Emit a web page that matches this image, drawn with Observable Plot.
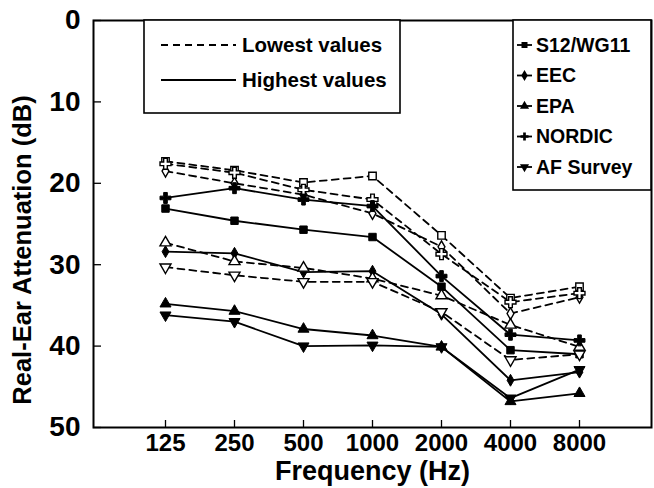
<!DOCTYPE html>
<html>
<head>
<meta charset="utf-8">
<script src="https://cdn.jsdelivr.net/npm/d3@7"></script>
<script src="https://cdn.jsdelivr.net/npm/@observablehq/plot@0.6"></script>
<style>
  html, body { margin: 0; padding: 0; background: #fff; }
  #chart svg { display: block; }
</style>
</head>
<body>
<div id="chart"></div>
<script>
// Octave-band frequencies (Hz)
const frequencies = ["125", "250", "500", "1000", "2000", "4000", "8000"];
const yTicks = [0, 10, 20, 30, 40, 50];

// Series (rating procedures)
const seriesNames = ["S12/WG11", "EEC", "EPA", "NORDIC", "AF Survey"];

// Real-ear attenuation (dB): lowest and highest values per procedure
const s12Low     = [17.3, 18.4, 19.9, 19.1, 26.4, 34.1, 32.7];
const s12High    = [23.1, 24.6, 25.7, 26.6, 32.7, 40.5, 41.0];
const eecLow     = [18.5, 20.0, 21.4, 23.7, 27.8, 36.0, 34.0];
const eecHigh    = [28.4, 28.6, 30.9, 30.8, 36.1, 44.2, 43.2];
const epaLow     = [27.3, 29.6, 30.4, 31.7, 33.8, 37.4, 40.1];
const epaHigh    = [34.8, 35.7, 37.9, 38.7, 40.1, 46.8, 45.8];
const nordicLow  = [17.6, 18.7, 20.8, 22.0, 28.7, 34.6, 33.5];
const nordicHigh = [21.8, 20.6, 22.0, 22.8, 31.4, 38.6, 39.3];
const afLow      = [30.3, 31.3, 32.1, 32.1, 35.8, 41.7, 41.0];
const afHigh     = [36.2, 37.0, 40.0, 39.9, 40.1, 46.4, 42.9];

// Downward-pointing triangle, same geometry as d3.symbolTriangle but flipped
const triangleDown = {
  draw(context, size) {
    const sqrt3 = Math.sqrt(3);
    const y = -Math.sqrt(size / (sqrt3 * 3));
    context.moveTo(0, -y * 2);
    context.lineTo(-sqrt3 * y, y);
    context.lineTo(sqrt3 * y, y);
    context.closePath();
  }
};

const seriesStyle = {
  "S12/WG11":  {symbol: "square",   r: 4.2, d3sym: d3.symbolSquare},
  "EEC":       {symbol: "diamond",  r: 3.6, d3sym: d3.symbolDiamond},
  "EPA":       {symbol: "triangle", r: 4.1, d3sym: d3.symbolTriangle},
  "NORDIC":    {symbol: "cross",    r: 4.6, d3sym: d3.symbolCross},
  "AF Survey": {symbol: triangleDown, r: 4.1, d3sym: triangleDown}
};

const lowArrays  = [s12Low, eecLow, epaLow, nordicLow, afLow];
const highArrays = [s12High, eecHigh, epaHigh, nordicHigh, afHigh];

const rows = [];
seriesNames.forEach((name, i) => {
  frequencies.forEach((f, j) => {
    rows.push({series: name, kind: "low", freq: f, value: lowArrays[i][j]});
    rows.push({series: name, kind: "high", freq: f, value: highArrays[i][j]});
  });
});
const lowRows = rows.filter(d => d.kind === "low");
const highRows = rows.filter(d => d.kind === "high");

const W = 654, H = 488;
const mLeft = 93, mRight = 3, mTop = 20, mBottom = 61;
const innerW = W - mLeft - mRight, innerH = H - mTop - mBottom;
const FONT = "'Liberation Sans', Arial, Helvetica, sans-serif";

const dotMarks = [];
seriesNames.forEach(name => {
  const st = seriesStyle[name];
  dotMarks.push(Plot.dot(lowRows.filter(d => d.series === name), {
    x: "freq", y: "value", symbol: () => st.symbol, r: st.r,
    fill: "white", stroke: "black", strokeWidth: 1.4
  }));
  dotMarks.push(Plot.dot(highRows.filter(d => d.series === name), {
    x: "freq", y: "value", symbol: () => st.symbol, r: st.r,
    fill: "black", stroke: "black", strokeWidth: 1
  }));
});

const chart = Plot.plot({
  width: W,
  height: H,
  marginLeft: mLeft,
  marginRight: mRight,
  marginTop: mTop,
  marginBottom: mBottom,
  style: {fontFamily: FONT, background: "white", color: "black"},
  x: {type: "point", domain: frequencies, padding: 1},
  y: {domain: [0, 50], reverse: true},
  symbol: {type: "identity"},
  marks: [
    // inward tick marks
    Plot.tickX(frequencies, {x: d => d, stroke: "black", strokeWidth: 1.3, insetTop: innerH - 7}),
    Plot.tickY(yTicks, {y: d => d, stroke: "black", strokeWidth: 1.3, insetRight: innerW - 8}),
    Plot.axisX({tickSize: 0, tickPadding: 6, fontSize: 24, fontWeight: "bold", label: null}),
    Plot.axisY(yTicks, {tickSize: 0, tickPadding: 13, fontSize: 28, fontWeight: "bold", label: null}),
    Plot.line(lowRows, {x: "freq", y: "value", z: "series", stroke: "black",
      strokeWidth: 1.8, strokeDasharray: "7,5"}),
    Plot.line(highRows, {x: "freq", y: "value", z: "series", stroke: "black",
      strokeWidth: 1.8}),
    ...dotMarks,
    Plot.frame({stroke: "black", strokeWidth: 2}),
    Plot.text(["Frequency (Hz)"], {frameAnchor: "bottom", dy: 44, lineAnchor: "middle",
      textAnchor: "middle", fontSize: 27, fontWeight: "bold", fill: "black"}),
    Plot.text(["Real-Ear Attenuation (dB)"], {frameAnchor: "left", dx: -71, dy: 26, rotate: -90,
      lineAnchor: "middle", textAnchor: "middle", fontSize: 25.5, fontWeight: "bold", fill: "black"})
  ]
});

document.getElementById("chart").appendChild(chart);

// Legends drawn inside the plot frame
const svg = d3.select(chart);
const lg = svg.append("g").attr("font-family", FONT).attr("font-weight", "bold")
  .attr("text-anchor", "start");

// line-style legend
lg.append("rect").attr("x", 144).attr("y", 20).attr("width", 256).attr("height", 93)
  .attr("fill", "white").attr("stroke", "black").attr("stroke-width", 1.6);
[["Lowest values", "7,5", 45], ["Highest values", null, 80]].forEach(([label, dash, y]) => {
  const ln = lg.append("line").attr("x1", 161).attr("x2", 236).attr("y1", y).attr("y2", y)
    .attr("stroke", "black").attr("stroke-width", 1.8);
  if (dash) ln.attr("stroke-dasharray", dash);
  lg.append("text").attr("x", 242).attr("y", y).attr("dy", "0.35em")
    .attr("font-size", 20.5).text(label);
});

// procedure legend
lg.append("rect").attr("x", 513).attr("y", 20).attr("width", 138).attr("height", 170)
  .attr("fill", "white").attr("stroke", "black").attr("stroke-width", 1.6);
seriesNames.forEach((name, i) => {
  const y = 45 + i * 30.5;
  const st = seriesStyle[name];
  lg.append("line").attr("x1", 517).attr("x2", 532).attr("y1", y).attr("y2", y)
    .attr("stroke", "black").attr("stroke-width", 1.8);
  lg.append("path").attr("transform", `translate(524.5,${y})`)
    .attr("d", d3.symbol(st.d3sym, 36)()).attr("fill", "black");
  lg.append("text").attr("x", 536).attr("y", y).attr("dy", "0.35em")
    .attr("font-size", 19.5).text(name);
});
</script>
</body>
</html>
